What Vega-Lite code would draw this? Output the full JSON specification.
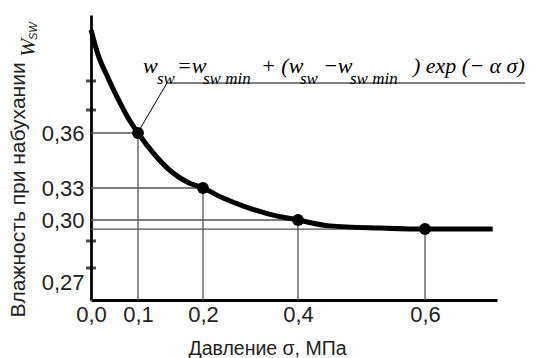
{
  "$schema": "https://vega.github.io/schema/vega-lite/v6.json",
  "width": 406,
  "height": 285,
  "autosize": {"type": "none"},
  "padding": {"left": 91, "top": 15, "right": 44, "bottom": 58},
  "background": "white",
  "config": {"view": {"stroke": null}, "font": "Liberation Sans"},
  "datasets": {
    "points": [
      {"s": 0.1, "w": 0.36},
      {"s": 0.2, "w": 0.33},
      {"s": 0.4, "w": 0.30},
      {"s": 0.6, "w": 0.2957}
    ],
    "curve": [
      {"s": 0.0, "w": 0.4155},
      {"s": 0.015, "w": 0.408},
      {"s": 0.036, "w": 0.401},
      {"s": 0.057, "w": 0.388},
      {"s": 0.079, "w": 0.373},
      {"s": 0.1, "w": 0.36},
      {"s": 0.126, "w": 0.348},
      {"s": 0.151, "w": 0.339},
      {"s": 0.177, "w": 0.333},
      {"s": 0.2, "w": 0.33},
      {"s": 0.24, "w": 0.321},
      {"s": 0.288, "w": 0.3125},
      {"s": 0.337, "w": 0.3058},
      {"s": 0.4, "w": 0.30},
      {"s": 0.45, "w": 0.2972},
      {"s": 0.529, "w": 0.2962},
      {"s": 0.6, "w": 0.2957},
      {"s": 0.694, "w": 0.2957}
    ],
    "yticks": [
      {"s": 0, "w": 0.40}, {"s": 0, "w": 0.38}, {"s": 0, "w": 0.29}, {"s": 0, "w": 0.28}
    ],
    "leader": [
      {"o": 1, "s": 0.103, "w": 0.3635},
      {"o": 2, "s": 0.1446, "w": 0.3986},
      {"o": 3, "s": 0.7389, "w": 0.3986}
    ],
    "fmain": [
      {"t": "w", "s": 0.1077, "w": 0.4024},
      {"t": "=w", "s": 0.16, "w": 0.4024},
      {"t": "+ (w", "s": 0.3221, "w": 0.4024},
      {"t": "−w", "s": 0.4394, "w": 0.4024},
      {"t": ") exp (− α σ)", "s": 0.5811, "w": 0.4024}
    ],
    "fsub": [
      {"t": "sw", "s": 0.1292, "w": 0.3979},
      {"t": "sw min", "s": 0.2, "w": 0.3979},
      {"t": "sw", "s": 0.4031, "w": 0.3979},
      {"t": "sw min", "s": 0.4819, "w": 0.3979}
    ],
    "ymain": [{"t": "W", "s": 0, "w": 0.4073}],
    "ysub": [{"t": "SW", "s": 0, "w": 0.4124}]
  },
  "encoding": {
    "x": {
      "field": "s",
      "type": "quantitative",
      "scale": {"domain": [0, 0.1, 0.2, 0.4, 0.6, 0.7], "range": [0, 47, 112, 207, 334, 406], "zero": false, "nice": false},
      "axis": {
        "values": [0, 0.1, 0.2, 0.4, 0.6],
        "labelExpr": "replace(format(datum.value, '.1f'), '.', ',')",
        "title": "Давление σ, МПа",
        "grid": false,
        "ticks": false,
        "tickSize": 0,
        "domainColor": "black",
        "domainWidth": 2.8,
        "labelFontSize": 22,
        "labelColor": "#222",
        "labelPadding": 4,
        "labelFlush": false,
        "labelOverlap": false,
        "titleFontSize": 19.5,
        "titleFontWeight": "normal",
        "titleColor": "#222",
        "titleX": 176,
        "titleY": 54,
        "titleAlign": "center",
        "titleBaseline": "alphabetic"
      }
    },
    "y": {
      "field": "w",
      "type": "quantitative",
      "scale": {"domain": [0.26, 0.27, 0.28, 0.29, 0.30, 0.33, 0.36, 0.38, 0.40, 0.42], "range": [285, 267, 253, 226, 205, 173, 118, 95, 66, 0], "zero": false, "nice": false},
      "axis": {
        "values": [0.27, 0.30, 0.33, 0.36],
        "labelExpr": "replace(format(datum.value, '.2f'), '.', ',')",
        "title": "Влажность при набухании",
        "grid": false,
        "ticks": false,
        "tickSize": 0,
        "domainColor": "black",
        "domainWidth": 2.8,
        "labelFontSize": 22,
        "labelColor": "#222",
        "labelPadding": 7,
        "labelFlush": false,
        "labelOverlap": false,
        "titleFontSize": 21,
        "titleFontWeight": "normal",
        "titleColor": "#222",
        "titleAngle": 270,
        "titleX": -73,
        "titleY": 302,
        "titleAlign": "left",
        "titleBaseline": "middle"
      }
    }
  },
  "layer": [
    {
      "data": {"name": "points"},
      "mark": {"type": "rule", "color": "#555", "strokeWidth": 1.3},
      "encoding": {"x": {"datum": 0}, "x2": {"field": "s"}}
    },
    {
      "data": {"name": "points"},
      "mark": {"type": "rule", "color": "#555", "strokeWidth": 1.3},
      "encoding": {"y2": {"datum": 0.26}}
    },
    {
      "data": {"name": "curve"},
      "mark": {"type": "line", "color": "black", "strokeWidth": 5, "interpolate": "monotone"},
      "encoding": {}
    },
    {
      "data": {"name": "points"},
      "mark": {"type": "point", "filled": true, "color": "black", "size": 140, "opacity": 1},
      "encoding": {}
    },
    {
      "data": {"name": "yticks"},
      "mark": {"type": "tick", "orient": "horizontal", "size": 10, "thickness": 3, "color": "black"},
      "encoding": {}
    },
    {
      "data": {"name": "leader"},
      "mark": {"type": "line", "color": "black", "strokeWidth": 1},
      "encoding": {"order": {"field": "o", "type": "quantitative"}}
    },
    {
      "data": {"name": "fmain"},
      "mark": {"type": "text", "font": "Liberation Serif", "fontStyle": "italic", "fontSize": 22, "align": "left", "baseline": "alphabetic", "color": "black"},
      "encoding": {"text": {"field": "t"}}
    },
    {
      "data": {"name": "fsub"},
      "mark": {"type": "text", "font": "Liberation Serif", "fontStyle": "italic", "fontSize": 17, "align": "left", "baseline": "alphabetic", "color": "black"},
      "encoding": {"text": {"field": "t"}}
    },
    {
      "data": {"name": "ymain"},
      "mark": {"type": "text", "font": "Liberation Serif", "fontStyle": "italic", "fontSize": 22, "align": "left", "baseline": "alphabetic", "angle": 270, "dy": -56, "color": "#222"},
      "encoding": {"text": {"field": "t"}}
    },
    {
      "data": {"name": "ysub"},
      "mark": {"type": "text", "font": "Liberation Sans", "fontStyle": "italic", "fontSize": 11, "align": "left", "baseline": "alphabetic", "angle": 270, "dy": -54, "color": "#222"},
      "encoding": {"text": {"field": "t"}}
    }
  ]
}
